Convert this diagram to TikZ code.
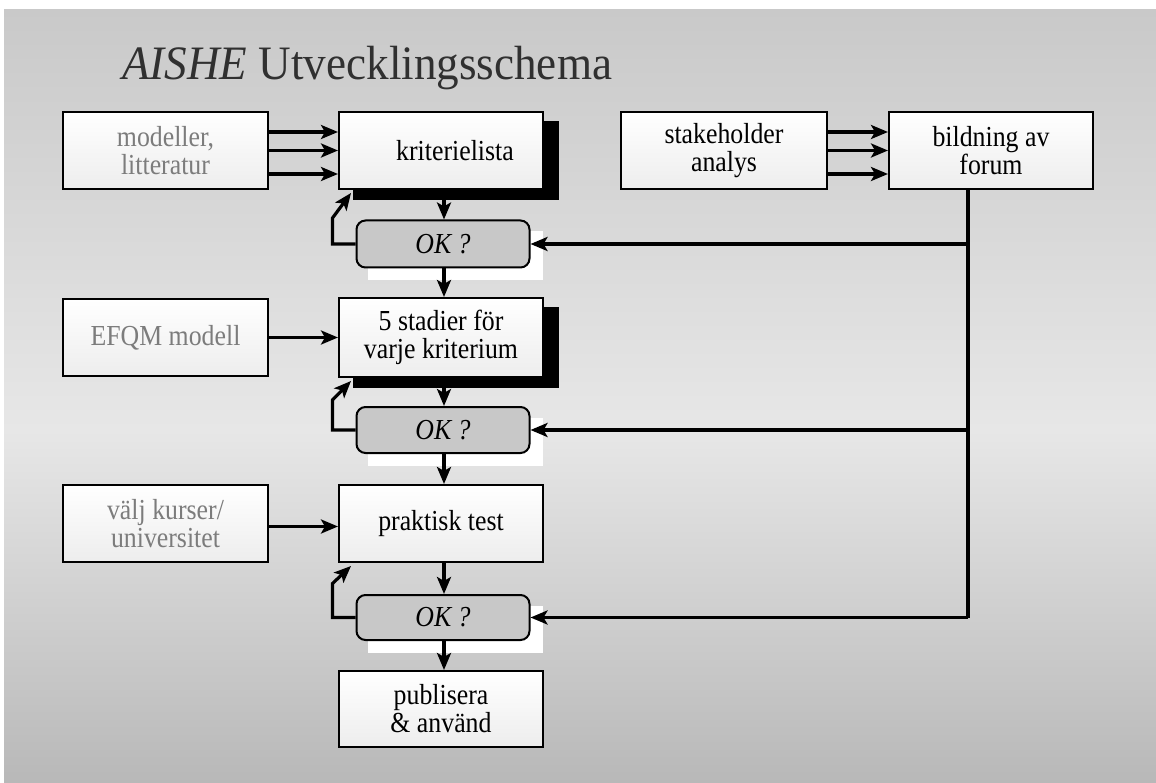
\documentclass[tikz,border=0pt]{standalone}
\usepackage{fontspec}
\setmainfont{Liberation Serif}
\newfontfamily\boxfont{Liberation Serif}[FakeStretch=0.89]
\newfontfamily\headfont{Liberation Serif}[FakeStretch=0.94]
\usetikzlibrary{arrows.meta,calc}
\definecolor{bgtop}{HTML}{C9C9C9}
\definecolor{bgmid}{HTML}{E7E7E7}
\definecolor{bgbot}{HTML}{B8B8B8}
\definecolor{okfill}{HTML}{C8C8C8}
\definecolor{srcgray}{HTML}{7C7C7C}
\definecolor{titlegray}{HTML}{303030}
\pgfdeclarelayer{back}
\pgfdeclarelayer{shade}
\pgfsetlayers{back,shade,main}
\begin{document}
\begin{tikzpicture}[x=1pt,y=-1pt,
  box/.style={draw=black, line width=2pt, top color=white, bottom color=white!93!black,
    minimum width=204pt, minimum height=77pt, align=center, inner sep=2pt,
    font=\boxfont\fontsize{29}{28}\selectfont},
  srcbox/.style={box, text=srcgray},
  okbox/.style={draw=black, line width=2pt, fill=okfill, rounded corners=9pt,
    minimum width=173pt, minimum height=47pt, inner sep=2pt,
    font=\boxfont\fontsize{29}{28}\selectfont\itshape},
  arr/.style={line width=3.2pt, -{Stealth[length=17pt,width=14pt,inset=4pt]}},
  wire/.style={line width=3.2pt},
]
\useasboundingbox (0,0) rectangle (1156,783);

% backdrop
\begin{pgfonlayer}{back}
  \fill[white] (0,0) rectangle (1156,783);
  \shade[top color=bgtop, bottom color=bgmid] (4,10) rectangle (1156,430);
  \shade[top color=bgmid, bottom color=bgbot] (4,430) rectangle (1156,783);
\end{pgfonlayer}

% title
\node[anchor=base west, inner sep=0pt, text=titlegray,
  font=\headfont\fontsize{48}{52}\selectfont] (title) at (122,80)
  {\textit{AISHE} Utvecklingsschema};

% left column: sources
\node[srcbox, minimum width=205pt] (mod)  at (165.5,150.5) {modeller,\\litteratur};
\node[srcbox, minimum width=205pt] (efqm) at (165.5,337.5) {EFQM modell};
\node[srcbox, minimum width=205pt] (valj) at (165.5,523.5) {välj kurser/\\universitet};

% middle column: development steps
\node[box] (krit) at (441,150.5) {\hspace*{28pt}kriterielista};
\node[okbox] (ok1) at (443,244) {\raisebox{-5pt}{OK ?}};
\node[box, minimum height=79pt] (stad) at (441,337.5) {5 stadier för\\varje kriterium};
\node[okbox, minimum height=46pt] (ok2) at (443,430) {\raisebox{-5pt}{OK ?}};
\node[box] (prak) at (441,523.5) {praktisk test};
\node[okbox, minimum height=45pt] (ok3) at (443,617.5) {\raisebox{-5pt}{OK ?}};
\node[box, minimum height=76pt] (pub) at (441,709) {publisera\\\& använd};

% right column: forum
\node[box, minimum width=206pt] (stak) at (724,150.5) {stakeholder\\analys};
\node[box] (bild) at (991,150.5) {bildning av\\forum};

% shadows behind boxes
\begin{pgfonlayer}{shade}
  \foreach \b in {krit,stad}
    \fill[black] ($(\b.north west)+(15,10)$) rectangle ($(\b.south east)+(15,10)$);
  \foreach \b in {ok1,ok2,ok3}
    \fill[white] ($(\b.north west)+(12,12)$) rectangle ($(\b.south east)+(12,12)$);
\end{pgfonlayer}

% sources into steps
\foreach \d in {18.5,0,-23.5}
  \draw[arr] ([yshift=\d pt]mod.east) -- ([yshift=\d pt]krit.west);
\foreach \d in {18.5,0,-23.5}
  \draw[arr] ([yshift=\d pt]stak.east) -- ([yshift=\d pt]bild.west);
\draw[arr] (efqm) -- (stad);
\draw[arr] ([yshift=-3pt]valj.east) -- ([yshift=-3pt]prak.west);

% main flow
\draw[arr] ([xshift=3pt]krit.south) -- ([xshift=1pt]ok1.north);
\draw[arr] ([xshift=1pt]ok1.south) -- ([xshift=3pt]stad.north);
\draw[arr] ([xshift=3pt]stad.south) -- ([xshift=1pt]ok2.north);
\draw[arr] ([xshift=1pt]ok2.south) -- ([xshift=3pt]prak.north);
\draw[arr] ([xshift=3pt]prak.south) -- ([xshift=1pt]ok3.north);
\draw[arr] ([xshift=1pt]ok3.south) -- ([xshift=3pt]pub.north);

% rework loops
\draw[arr] (ok1.west) -- ++(-23,0) -- ++(0,-26)
  -- ([shift={(13pt,-3pt)}]krit.south west);
\draw[arr] (ok2.west) -- ++(-23,0) -- ++(0,-30)
  -- ([shift={(13pt,-3pt)}]stad.south west);
\draw[arr] (ok3.west) -- ++(-23,0) -- ++(0,-34)
  -- ([shift={(13pt,-3pt)}]prak.south west);

% forum feedback to every check
\coordinate (fb) at ([xshift=-23pt]bild.south);
\draw[wire] (fb) -- (fb |- ok3.east);
\foreach \o in {ok1,ok2,ok3}
  \draw[arr] (fb |- \o.east) -- (\o.east);
\end{tikzpicture}
\end{document}
